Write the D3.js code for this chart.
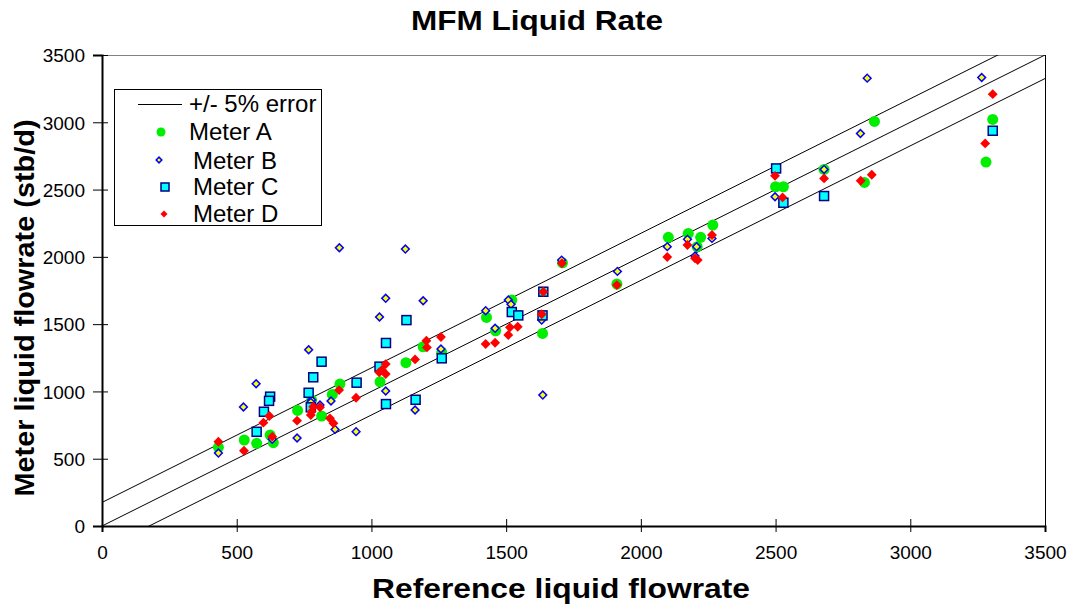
<!DOCTYPE html>
<html><head><meta charset="utf-8">
<script src="https://cdn.jsdelivr.net/npm/d3@7"></script>
<style>
html,body{margin:0;padding:0;background:#fff;}
text{font-family:"Liberation Sans",Arial,sans-serif;fill:#000;}
</style></head>
<body><svg id="c" width="1074" height="607"></svg>
<script>
// ---- data ----
const title = "MFM Liquid Rate";
const xTitle = "Reference liquid flowrate";
const yTitle = "Meter liquid flowrate (stb/d)";
const tickValues = [0,500,1000,1500,2000,2500,3000,3500];
const errorBand = 175; // +/- 5% of 3500
const meterA = [[432,585],[528,639],[574,614],[624,676],[636,619],[726,859],[778,936],[815,817],[855,978],[883,1055],[1032,1072],[1128,1214],[1192,1332],[1261,1290],[1427,1550],[1461,1451],[1521,1679],[1635,1431],[1709,1956],[1911,1798],[2102,2145],[2176,2174],[2222,2145],[2209,2076],[2267,2236],[2500,2521],[2529,2521],[2680,2650],[2830,2553],[2867,3006],[3281,2704],[3306,3021]];
const meterB = [[432,542],[525,884],[572,1057],[632,644],[724,654],[767,1310],[778,936],[775,919],[809,899],[850,929],[865,718],[881,2068],[943,701],[1030,1553],[1053,1692],[1053,1003],[1126,2058],[1162,862],[1192,1674],[1258,1315],[1424,1600],[1459,1469],[1508,1679],[1518,1647],[1632,1530],[1636,973],[1706,1976],[1913,1892],[2098,2076],[2173,2130],[2207,2076],[2201,2006],[2264,2137],[2498,2447],[2680,2650],[2815,2917],[2840,3328],[3265,3333]];
const meterC = [[574,700],[601,849],[624,961],[620,930],[767,990],[775,882],[784,1105],[815,1221],[945,1065],[1030,1184],[1054,1360],[1054,906],[1130,1530],[1164,938],[1261,1246],[1521,1590],[1545,1565],[1635,1565],[1638,1741],[2502,2657],[2529,2402],[2680,2452],[3306,2937]];
const meterD = [[432,626],[527,559],[599,768],[621,817],[632,664],[724,783],[784,887],[778,850],[775,825],[809,882],[846,800],[859,763],[880,1010],[943,953],[1029,1142],[1039,1159],[1053,1129],[1053,1203],[1162,1238],[1204,1377],[1206,1327],[1258,1404],[1424,1352],[1459,1362],[1508,1419],[1514,1476],[1543,1481],[1632,1573],[1638,1741],[1707,1952],[1911,1790],[2098,1999],[2173,2088],[2201,1989],[2211,1976],[2264,2162],[2498,2602],[2526,2442],[2680,2583],[2816,2566],[2857,2610],[3278,2843],[3306,3209]];
const legendLabels = ["+/- 5% error","Meter A","Meter B","Meter C","Meter D"];

// ---- chart ----
const svg = d3.select("#c");
const L=102,R=1045,T=55,B=526;
const x = d3.scaleLinear().domain([0,3500]).range([L,R]);
const y = d3.scaleLinear().domain([0,3500]).range([B,T]);
const font = '"Liberation Sans",Arial,sans-serif';
const fmt = d3.format("d");

svg.append("defs").append("clipPath").attr("id","pa")
  .append("rect").attr("x",L).attr("y",T).attr("width",R-L).attr("height",B-T);

// frame (top/right)
svg.append("line").attr("x1",L).attr("x2",R).attr("y1",T+0.5).attr("y2",T+0.5).attr("stroke","#808080").attr("stroke-width",1);
svg.append("line").attr("x1",R+0.5).attr("x2",R+0.5).attr("y1",T).attr("y2",B).attr("stroke","#000").attr("stroke-width",1);

// reference lines
const lg = svg.append("g").attr("clip-path","url(#pa)");
[errorBand,0,-errorBand].forEach(o=>{
  lg.append("line").attr("x1",x(0)).attr("y1",y(0+o)).attr("x2",x(3500)).attr("y2",y(3500+o))
    .attr("stroke","#000").attr("stroke-width",1);
});

// axes
const xa = svg.append("g").attr("transform",`translate(0,${B})`)
  .call(d3.axisBottom(x).tickValues(tickValues).tickFormat(fmt).tickSizeOuter(0).tickSize(6).tickPadding(0));
xa.attr("font-size",null).attr("font-family",null);
xa.select(".domain").attr("stroke","#000").attr("stroke-width",2);
xa.selectAll(".tick line").attr("y1",-7).attr("y2",6).attr("stroke","#000").attr("stroke-width",1);
xa.selectAll(".tick text").attr("y",33).attr("dy",null).style("font-size","19px").style("font-family",font).attr("fill","#000");

const ya = svg.append("g").attr("transform",`translate(${L},0)`)
  .call(d3.axisLeft(y).tickValues(tickValues).tickFormat(fmt).tickSizeOuter(0).tickSize(9).tickPadding(0));
ya.attr("font-size",null).attr("font-family",null);
ya.select(".domain").attr("stroke","#000").attr("stroke-width",2);
ya.selectAll(".tick line").attr("x1",-9).attr("x2",6).attr("stroke","#000").attr("stroke-width",1);
ya.selectAll(".tick text").attr("x",-17).attr("dy","0.36em").style("font-size","19px").style("font-family",font).attr("fill","#000");

// markers
function drawA(g,d,r){ g.append("circle").attr("cx",d[0]).attr("cy",d[1]).attr("r",r).attr("fill","#00ee00"); }
function drawB(g,d,s){ g.append("path").attr("d",d3.symbol().type(d3.symbolSquare).size(s*s)())
  .attr("transform",`translate(${d[0]},${d[1]}) rotate(45)`).attr("fill","#ffff00").attr("stroke","#0000ff").attr("stroke-width",1.5); }
function drawC(g,d,s){ g.append("rect").attr("x",d[0]-s/2).attr("y",d[1]-s/2).attr("width",s).attr("height",s)
  .attr("fill","#00ffff").attr("stroke","#000080").attr("stroke-width",1.5); }
function drawD(g,d,s){ g.append("path").attr("d",d3.symbol().type(d3.symbolSquare).size(s*s)())
  .attr("transform",`translate(${d[0]},${d[1]}) rotate(45)`).attr("fill","#ff0000"); }

const mg = svg.append("g");
meterA.forEach(p=>drawA(mg,[x(p[0]),y(p[1])],5.5));
meterB.forEach(p=>drawB(mg,[x(p[0]),y(p[1])],5.5));
meterC.forEach(p=>drawC(mg,[x(p[0]),y(p[1])],9));
meterD.forEach(p=>drawD(mg,[x(p[0]),y(p[1])],7));

// legend
const leg = svg.append("g");
leg.append("rect").attr("x",114.5).attr("y",89.5).attr("width",207).attr("height",136).attr("fill","#fff").attr("stroke","#000").attr("stroke-width",1);
leg.append("line").attr("x1",138).attr("x2",182).attr("y1",104.5).attr("y2",104.5).attr("stroke","#000").attr("stroke-width",1);
drawA(leg,[161,132],4.5);
drawB(leg,[159,160],4);
drawC(leg,[165,187],8);
drawD(leg,[164,214],5);
const lx=[189,189,193,193,193], ly=[112,140,169,195,222];
legendLabels.forEach((t,i)=>{
  leg.append("text").attr("x",lx[i]).attr("y",ly[i]).style("font-size","24px").text(t);
});

// titles
svg.append("text").attr("x",537).attr("y",30).attr("text-anchor","middle")
  .style("font-size","28px").style("font-weight","bold").attr("textLength",252).attr("lengthAdjust","spacingAndGlyphs").text(title);
svg.append("text").attr("x",561).attr("y",598).attr("text-anchor","middle")
  .style("font-size","28px").style("font-weight","bold").attr("textLength",378).attr("lengthAdjust","spacingAndGlyphs").text(xTitle);
svg.append("text").attr("transform","translate(34,308) rotate(-90)").attr("text-anchor","middle")
  .style("font-size","28px").style("font-weight","bold").attr("textLength",377).attr("lengthAdjust","spacingAndGlyphs").text(yTitle);
</script></body></html>
